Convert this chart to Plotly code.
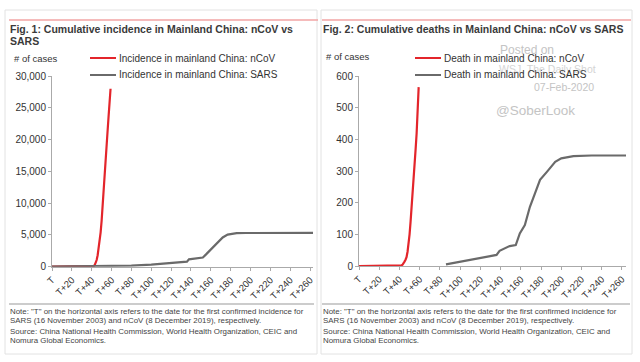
import plotly.graph_objects as go

W, H = 640, 362

# ---- data ----
tick_days = list(range(0, 261, 20))
tick_text = ["T"] + [f"T+{d}" for d in tick_days[1:]]

ncov_case_days = [0, 10, 20, 30, 40, 41, 42, 43, 44, 45, 46, 47, 48, 49, 50, 51, 52, 53, 54, 55, 56, 57, 58, 59]
ncov_cases = [0, 5, 15, 30, 45, 60, 100, 250, 550, 1050, 1800, 2800, 3900, 5400, 7200, 9300, 11700, 14000, 16500, 19000, 21300, 23600, 25800, 28000]

sars_case_days = [0, 20, 40, 60, 80, 100, 120, 136, 138, 145, 152, 155, 158, 162, 167, 172, 177, 181, 186, 195, 263]
sars_cases = [10, 30, 60, 100, 170, 320, 520, 790, 1160, 1250, 1450, 1900, 2400, 2900, 3800, 4600, 5050, 5200, 5270, 5300, 5327]

ncov_death_days = [0, 10, 20, 30, 40, 41, 42, 43, 44, 45, 46, 47, 48, 49, 50, 51, 52, 53, 54, 55, 56, 57, 58, 59]
ncov_deaths = [0, 0, 0, 0, 1, 1, 2, 4, 8, 14, 20, 28, 45, 70, 100, 140, 180, 225, 272, 320, 370, 420, 490, 565]

sars_death_days = [86, 100, 120, 136, 139, 149, 155, 159, 164, 169, 174, 179, 186, 194, 200, 212, 230, 264]
sars_deaths = [5, 13, 24, 35, 48, 63, 66, 103, 129, 187, 229, 272, 298, 329, 340, 347, 349, 349]

RED = "#e3252b"
GREY = "#6a6a6a"
TXT = "#333333"
FONT = "Liberation Sans, Arial, sans-serif"

def px(x):
    return x / W

def py(y):
    return 1 - y / H

fig = go.Figure()
fig.add_trace(go.Scatter(x=ncov_case_days, y=ncov_cases, mode="lines",
                         line=dict(color=RED, width=2.2), xaxis="x", yaxis="y", showlegend=False))
fig.add_trace(go.Scatter(x=sars_case_days, y=sars_cases, mode="lines",
                         line=dict(color=GREY, width=2.2), xaxis="x", yaxis="y", showlegend=False))
fig.add_trace(go.Scatter(x=sars_death_days, y=sars_deaths, mode="lines",
                         line=dict(color=GREY, width=2.2), xaxis="x2", yaxis="y2", showlegend=False))
fig.add_trace(go.Scatter(x=ncov_death_days, y=ncov_deaths, mode="lines",
                         line=dict(color=RED, width=2.2), xaxis="x2", yaxis="y2", showlegend=False))

xcommon = dict(tickvals=tick_days, ticktext=tick_text, tickangle=-45, showline=True,
               linecolor="#aaaaaa", linewidth=1, ticks="outside", ticklen=3, tickcolor="#aaaaaa",
               showgrid=False, zeroline=False, automargin=False,
               tickfont=dict(family=FONT, size=9.5, color=TXT))
ycommon = dict(showline=True, linecolor="#aaaaaa", linewidth=1, ticks="outside", ticklen=3,
               tickcolor="#aaaaaa", showgrid=False, zeroline=False, automargin=False,
               tickfont=dict(family=FONT, size=10, color=TXT))

fig.update_layout(
    width=W, height=H, margin=dict(l=0, r=0, t=0, b=0, pad=0), autosize=False,
    paper_bgcolor="white", plot_bgcolor="white",
    xaxis=dict(domain=[px(52), px(313)], range=[0, 263], anchor="y", **xcommon),
    yaxis=dict(domain=[py(266.7), py(76)], range=[0, 30000], anchor="x",
               tickvals=[0, 5000, 10000, 15000, 20000, 25000, 30000],
               ticktext=["0", "5,000", "10,000", "15,000", "20,000", "25,000", "30,000"], **ycommon),
    xaxis2=dict(domain=[px(359), px(626)], range=[0, 264], anchor="y2", **xcommon),
    yaxis2=dict(domain=[py(266), py(76)], range=[0, 600], anchor="x2",
                tickvals=[0, 100, 200, 300, 400, 500, 600], **ycommon),
)

shapes = []
# panel borders
shapes.append(dict(type="rect", xref="paper", yref="paper", x0=px(5), x1=px(317), y0=py(354), y1=py(10),
                   line=dict(color="#e2e2e2", width=1)))
shapes.append(dict(type="rect", xref="paper", yref="paper", x0=px(321), x1=px(632), y0=py(354), y1=py(10),
                   line=dict(color="#e2e2e2", width=1)))
# pink rules
for a, b in [(9, 318), (322, 631)]:
    shapes.append(dict(type="line", xref="paper", yref="paper", x0=px(a), x1=px(b), y0=py(20), y1=py(20),
                       line=dict(color="#f2a5a5", width=1.5)))
# separators above the notes
for a, b in [(9, 314), (322, 630)]:
    shapes.append(dict(type="line", xref="paper", yref="paper", x0=px(a), x1=px(b), y0=py(304), y1=py(304),
                       line=dict(color="#999999", width=1)))
# legend samples
for x0, x1 in [(90, 116), (415, 441)]:
    shapes.append(dict(type="line", xref="paper", yref="paper", x0=px(x0), x1=px(x1), y0=py(58), y1=py(58),
                       line=dict(color=RED, width=2)))
    shapes.append(dict(type="line", xref="paper", yref="paper", x0=px(x0), x1=px(x1), y0=py(75), y1=py(75),
                       line=dict(color=GREY, width=2)))
fig.update_layout(shapes=shapes)

ann = []

def text(x, y, s, size=10, color=TXT, bold=False, anchor="left"):
    ann.append(dict(xref="paper", yref="paper", x=px(x), y=py(y), text=(f"<b>{s}</b>" if bold else s),
                    showarrow=False, xanchor=anchor, yanchor="middle",
                    font=dict(family=FONT, size=size, color=color)))

text(8, 29, "Fig. 1: Cumulative incidence in Mainland China: nCoV vs", 10.5, "#3a3a3a", True)
text(8, 41, "SARS", 10.5, "#3a3a3a", True)
text(321, 29, "Fig. 2: Cumulative deaths in Mainland China: nCoV vs SARS", 10.5, "#3a3a3a", True)
text(12, 58, "# of cases", 9.5)
text(324, 57, "# of cases", 9.5)
text(117, 58, "Incidence in mainland China: nCoV", 10)
text(117, 75, "Incidence in mainland China: SARS", 10)

# watermark
text(498, 50, "Posted on", 12, "#c4c4c4")
text(497, 69, "WSJ, The Daily Shot", 10.5, "#d4d4d4")
text(532, 87, "07-Feb-2020", 10.5, "#c4c4c4")
text(494, 111, "@SoberLook", 13.5, "#c4c4c4")

text(442, 58, "Death in mainland China: nCoV", 10)
text(442, 75, "Death in mainland China: SARS", 10)

notes = ['Note: "T" on the horizontal axis refers to the date for the first confirmed incidence for',
         "SARS (16 November 2003) and nCoV (8 December 2019), respectively.",
         "Source: China National Health Commission, World Health Organization, CEIC and",
         "Nomura Global Economics."]
note_y = [311, 320.5, 331, 340.5]
for x0 in [8, 321]:
    for s, y in zip(notes, note_y):
        text(x0, y, s, 7.9, "#444444")

fig.update_layout(annotations=ann)
fig.write_html("out.html", config={"displayModeBar": False},
               post_script="document.body.style.margin='0';document.body.style.overflow='hidden';")
